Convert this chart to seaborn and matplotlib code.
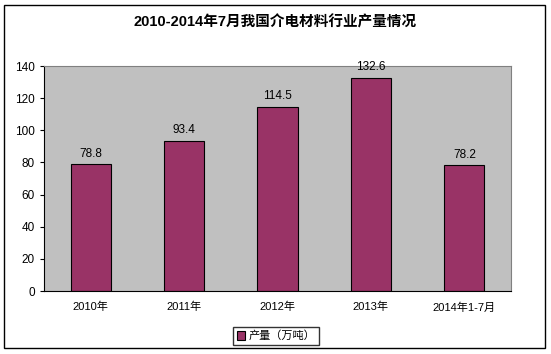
import matplotlib
matplotlib.use("Agg")
import matplotlib.pyplot as plt
import matplotlib.patches as mpatches
import seaborn as sns
import pandas as pd

# Data
categories = ["2010年", "2011年", "2012年", "2013年", "2014年1-7月"]
values = [78.8, 93.4, 114.5, 132.6, 78.2]
series_name = "产量（万吨）"
title = "2010-2014年7月我国介电材料行业产量情况"

sns.set_style("white")
plt.rcParams["font.family"] = ["Liberation Sans", "Noto Sans CJK SC", "DejaVu Sans"]
plt.rcParams["text.color"] = "black"
plt.rcParams["xtick.color"] = "black"
plt.rcParams["ytick.color"] = "black"

df = pd.DataFrame({"cat": categories, "val": values})

fig = plt.figure(figsize=(5.51, 3.54), dpi=100)
ax = fig.add_axes([44 / 551, 1 - 291 / 354, 467 / 551, 225 / 354])

sns.barplot(data=df, x="cat", y="val", ax=ax, color="#993366", width=0.43,
            edgecolor="black", linewidth=0.8, saturation=1)

ax.set_facecolor("#C0C0C0")
ax.set_ylim(0, 140)
ax.set_xlim(-0.5, len(categories) - 0.5)
ax.set_yticks(range(0, 141, 20))
ax.set_xlabel("")
ax.set_ylabel("")
for s in ax.spines.values():
    s.set_color("#808080")
    s.set_linewidth(0.8)
ax.spines["bottom"].set_color("black")
ax.spines["left"].set_color("black")
ax.tick_params(axis="y", labelsize=8.5, length=3, direction="out", left=True)
ax.tick_params(axis="x", labelsize=8, length=0, pad=8)

for i, v in enumerate(values):
    ax.text(i, v + 3, f"{v:.1f}", ha="center", va="bottom", fontsize=8.5)

fig.suptitle(title, y=1 - 22 / 354, fontsize=10.5, fontweight="bold", va="center")

handle = mpatches.Patch(facecolor="#993366", edgecolor="black", linewidth=0.8)
fig.legend([handle], [series_name], loc="center", bbox_to_anchor=(276 / 551, 1 - 336 / 354),
           fontsize=8, frameon=True, fancybox=False, edgecolor="black",
           handlelength=0.8, handleheight=0.8, handletextpad=0.3, borderpad=0.3)

# outer border
fig.patches.append(mpatches.Rectangle((4 / 551, 6 / 354), 541 / 551, 343 / 354,
                                      transform=fig.transFigure, fill=False,
                                      edgecolor="black", linewidth=1))

fig.savefig("out.png", dpi=100)
